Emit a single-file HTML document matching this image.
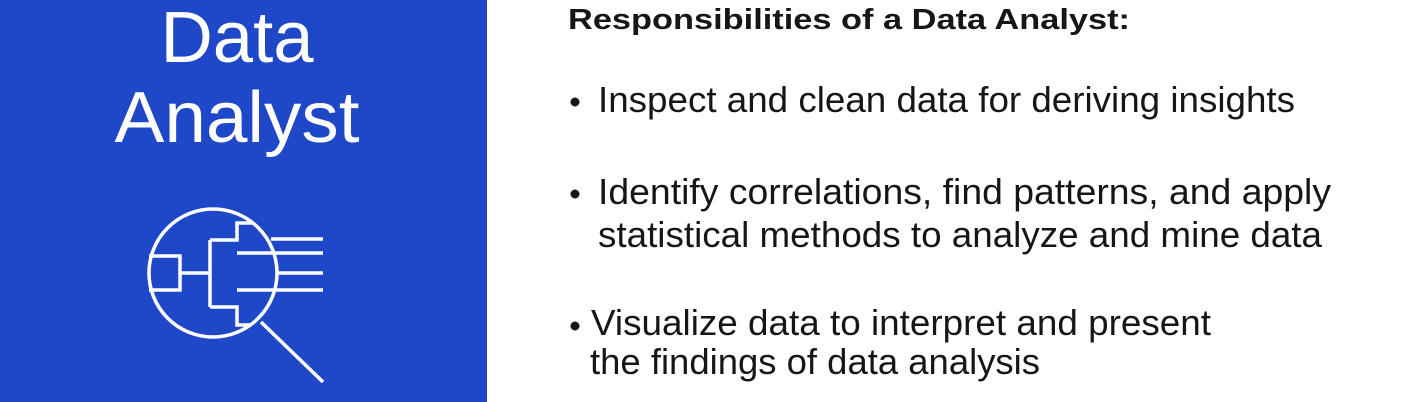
<!DOCTYPE html>
<html><head><meta charset="utf-8"><style>
html,body{margin:0;padding:0;background:#fff;}
svg{display:block;}
text{font-family:"Liberation Sans",sans-serif;}
</style></head><body>
<svg width="1410" height="402" viewBox="0 0 1410 402">
<rect x="0" y="0" width="487" height="402" fill="#1f48c8"/>
<text x="237" y="62" font-size="72" fill="#fff" text-anchor="middle" textLength="153" lengthAdjust="spacingAndGlyphs">Data</text>
<text x="237" y="142" font-size="72" fill="#fff" text-anchor="middle" textLength="245" lengthAdjust="spacingAndGlyphs">Analyst</text>
<g fill="none" stroke="#fff" stroke-width="3.5">
<circle cx="213" cy="273" r="64"/>
<path d="M149 256 H180 V290 H149 M180 273 H210 M210 240 V307 M210 240 H237 V223 H252 M210 307 H237 V325 H250 M237 253 H323 M237 290 H323 M271 239 H323 M276 273 H323"/>
<line x1="261" y1="322" x2="323" y2="382"/>
</g>
<text x="568" y="29" font-size="29" font-weight="bold" fill="#161616" textLength="562" lengthAdjust="spacingAndGlyphs">Responsibilities of a Data Analyst:</text>
<g fill="#161616">
<circle cx="575" cy="102" r="4.5"/>
<circle cx="575" cy="194" r="4.5"/>
<circle cx="575" cy="326" r="4.5"/>
</g>
<g font-size="36" fill="#161616">
<text x="598" y="112" textLength="697" lengthAdjust="spacingAndGlyphs">Inspect and clean data for deriving insights</text>
<text x="598" y="204" textLength="733" lengthAdjust="spacingAndGlyphs">Identify correlations, find patterns, and apply</text>
<text x="598" y="247" textLength="724" lengthAdjust="spacingAndGlyphs">statistical methods to analyze and mine data</text>
<text x="591" y="335" textLength="620" lengthAdjust="spacingAndGlyphs">Visualize data to interpret and present</text>
<text x="590" y="374" textLength="450" lengthAdjust="spacingAndGlyphs">the findings of data analysis</text>
</g>
</svg>
</body></html>
